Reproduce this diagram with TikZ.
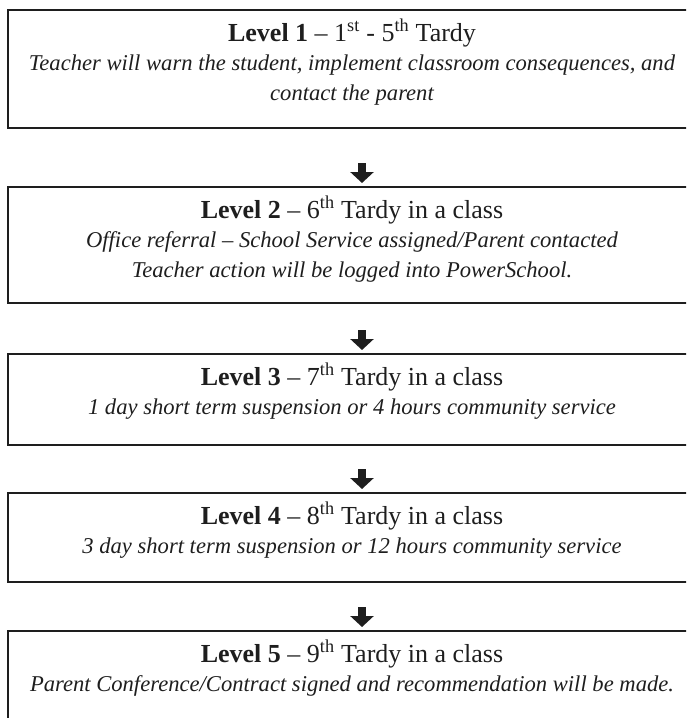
\documentclass[tikz,border=0pt]{standalone}
\usepackage{fontspec}
\setmainfont{Liberation Serif}
\usetikzlibrary{arrows.meta}
\definecolor{ink}{HTML}{1E1E1E}
\begin{document}
\begin{tikzpicture}[x=1pt,y=-1pt,
 frame/.style={draw=ink, line width=2.4pt, minimum width=688pt, inner sep=0pt, outer sep=0pt, anchor=north west},
 head/.style={anchor=base, inner sep=0pt, font=\fontsize{26}{30}\selectfont, text=ink},
 body/.style={anchor=base, inner sep=0pt, font=\fontsize{22.6}{28}\selectfont\itshape, text=ink},
 bigarrow/.style={line width=8pt, draw=ink, -{Triangle[width=23pt,length=11pt]}}]
\useasboundingbox (0,0) rectangle (686,718);
\clip (0,0) rectangle (686,718);
% frames
\node[frame, minimum height=118pt] (b1) at (8,10) {};
\node[frame, minimum height=116pt] (b2) at (8,187) {};
\node[frame, minimum height=91pt] (b3) at (8,354) {};
\node[frame, minimum height=89pt] (b4) at (8,493) {};
\node[frame, minimum height=110pt] (b5) at (8,631) {};
% texts
\node[head] (h1) at (352,41) {\textbf{Level 1} – 1\textsuperscript{st} - 5\textsuperscript{th} Tardy};
\node[body] (t1a) at (352,70) {Teacher will warn the student, implement classroom consequences, and};
\node[body] (t1b) at (352,100) {contact the parent};
\node[head] (h2) at (352,218) {\textbf{Level 2} – 6\textsuperscript{th} Tardy in a class};
\node[body] (t2a) at (352,247) {Office referral – School Service assigned/Parent contacted};
\node[body] (t2b) at (352,277) {Teacher action will be logged into PowerSchool.};
\node[head] (h3) at (352,385) {\textbf{Level 3} – 7\textsuperscript{th} Tardy in a class};
\node[body] (t3a) at (352,414) {1 day short term suspension or 4 hours community service};
\node[head] (h4) at (352,524) {\textbf{Level 4} – 8\textsuperscript{th} Tardy in a class};
\node[body] (t4a) at (352,553) {3 day short term suspension or 12 hours community service};
\node[head] (h5) at (352,662) {\textbf{Level 5} – 9\textsuperscript{th} Tardy in a class};
\node[body] (t5a) at (352,691) {Parent Conference/Contract signed and recommendation will be made.};
% arrows
\draw[bigarrow, shorten <=35pt, shorten >=4pt] ([xshift=10pt]b1.south) -- ([xshift=10pt]b2.north);
\draw[bigarrow, shorten <=27pt, shorten >=4pt] ([xshift=10pt]b2.south) -- ([xshift=10pt]b3.north);
\draw[bigarrow, shorten <=24pt, shorten >=4pt] ([xshift=10pt]b3.south) -- ([xshift=10pt]b4.north);
\draw[bigarrow, shorten <=25pt, shorten >=4pt] ([xshift=10pt]b4.south) -- ([xshift=10pt]b5.north);
\end{tikzpicture}
\end{document}
